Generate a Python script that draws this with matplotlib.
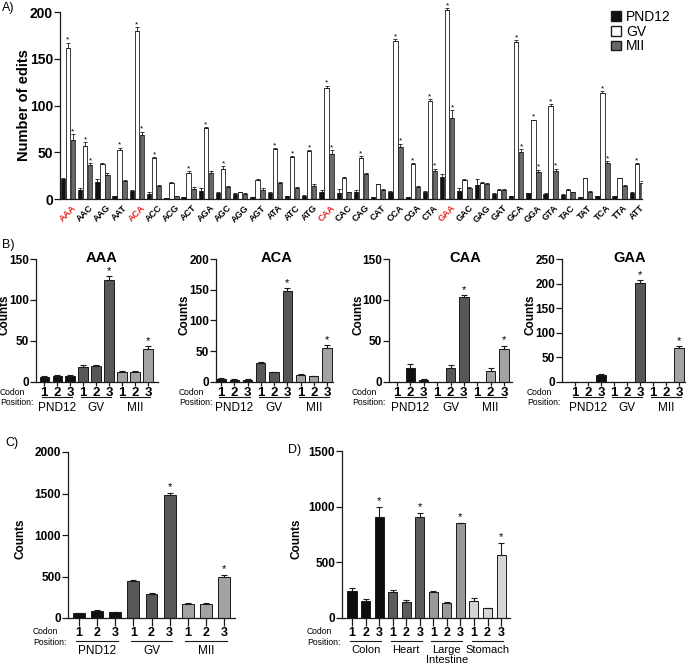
import numpy as np
import matplotlib
matplotlib.use('Agg')
import matplotlib.pyplot as plt
from matplotlib.transforms import offset_copy
from matplotlib.patches import Patch

plt.rcParams['font.family'] = ['Liberation Sans', 'DejaVu Sans']

# ---- data ----
codons = ['AAA', 'AAC', 'AAG', 'AAT', 'ACA', 'ACC', 'ACG', 'ACT', 'AGA', 'AGC', 'AGG', 'AGT',
          'ATA', 'ATC', 'ATG', 'CAA', 'CAC', 'CAG', 'CAT', 'CCA', 'CGA', 'CTA', 'GAA', 'GAC',
          'GAG', 'GAT', 'GCA', 'GGA', 'GTA', 'TAC', 'TAT', 'TCA', 'TTA', 'ATT']
red_codons = ['AAA', 'ACA', 'CAA', 'GAA']
pnd12 = [21, 10, 18, 3, 9, 5, 1, 2, 9, 6, 5, 2, 6, 3, 3, 8, 6, 8, 2, 7, 2, 7, 24, 9,
         15, 5, 3, 6, 5, 4, 2, 3, 3, 6]
gv = [162, 57, 37, 52, 180, 44, 17, 28, 76, 32, 7, 20, 53, 45, 51, 119, 22, 44, 16, 169, 37, 105, 202, 20,
      17, 10, 168, 84, 100, 10, 22, 113, 22, 37]
mii = [63, 36, 26, 19, 68, 14, 3, 11, 28, 13, 5, 10, 17, 12, 14, 48, 7, 27, 10, 56, 13, 30, 87, 12,
       16, 10, 50, 29, 30, 7, 8, 38, 14, 17]
pnd12_err = [1.5, 1.5, 3, 0.5, 1, 2, 0.3, 0.5, 2.5, 1.5, 1, 0.5, 1.5, 0.5, 1.5, 1.5, 5, 1.5, 0.5, 2, 0.5, 2, 3, 2.5,
             6, 1.5, 0.5, 0.5, 1, 1, 0.3, 0.5, 0.5, 2]
gv_err = [5, 4, 2, 3, 4, 1, 1, 2, 1, 3, 0.5, 1, 1.5, 1, 1, 2, 1, 1.5, 0.5, 2, 1.5, 1.5, 2, 1,
          1, 1, 2, 1, 1.5, 1, 0.5, 2, 0.5, 1]
mii_err = [6, 2, 2, 1, 4, 1, 0.5, 1.5, 2, 1, 1, 1.5, 1.5, 1, 2, 4, 1, 1, 1, 3, 1, 2.5, 8, 1,
           1.5, 1, 3, 2.5, 2.5, 1, 1, 2.5, 1.5, 2]
gv_star = ['AAA', 'AAC', 'AAT', 'ACA', 'ACC', 'ACT', 'AGA', 'AGC', 'ATA', 'ATC', 'ATG', 'CAA',
           'CAG', 'CCA', 'CGA', 'CTA', 'GAA', 'GCA', 'GGA', 'GTA', 'TCA', 'ATT']
mii_star = ['AAA', 'AAC', 'ACA', 'CAA', 'CCA', 'CTA', 'GAA', 'GCA', 'GGA', 'GTA', 'TCA']

stages = ['PND12', 'GV', 'MII']
b_titles = ['AAA', 'ACA', 'CAA', 'GAA']
b_aaa = [6, 7, 7.5, 18, 19.5, 125, 12, 12, 40]
b_aaa_err = [1, 2, 1, 3, 1, 4, 1, 1, 4]
b_aca = [5, 4, 4, 31.5, 16, 148, 12, 10, 56]
b_aca_err = [1, 1.5, 1, 1, 1, 5, 1, 0.5, 3.5]
b_caa = [0, 17, 3, 0, 17.5, 104, 0, 14, 40.5]
b_caa_err = [0, 5, 1, 0, 3.5, 2, 0, 3, 4]
b_gaa = [0, 0, 13.5, 0, 0, 202, 0, 0, 69]
b_gaa_err = [0, 0, 3, 0, 0, 5, 0, 0, 5]
b_ymax = [150, 200, 150, 250]

c_counts = [60, 84, 68, 442, 293, 1476, 173, 169, 490]
c_err = [5, 8, 5, 20, 8, 25, 12, 12, 33]

tissues = ['Colon', 'Heart', 'Large\nIntestine', 'Stomach']
d_counts = [245, 154, 906, 230, 145, 903, 236, 139, 849, 154, 88, 565]
d_err = [21, 21, 91, 18, 21, 43, 3, 3, 6, 24, 3, 109]

# ---- layout helpers ----
W, H = 689, 669
fig = plt.figure(figsize=(W / 100, H / 100), dpi=100)
K = '#1a1a1a'


def px_axes(l, t, r, b):
    return fig.add_axes([l / W, 1 - b / H, (r - l) / W, (b - t) / H])


def ftext(x, y, s, **kw):
    fig.text(x / W, 1 - y / H, s, **kw)


def style(ax, ymax, step, fs, ytop=None):
    for s in ['top', 'right']:
        ax.spines[s].set_visible(False)
    for s in ['left', 'bottom']:
        ax.spines[s].set_linewidth(0.9)
        ax.spines[s].set_color(K)
    ax.set_ylim(0, ytop or ymax)
    ax.spines['left'].set_bounds(0, ymax)
    ax.set_yticks(np.arange(0, ymax + 1, step))
    ax.tick_params(axis='y', length=4, width=0.9, labelsize=fs, pad=1, color=K)
    for t in ax.get_yticklabels():
        t.set_fontweight('bold')


def bars(ax, vals, errs, colors, width):
    x = np.arange(len(vals))
    ax.bar(x, vals, width, color=colors, edgecolor=K, linewidth=0.7)
    ax.errorbar(x, vals, yerr=[np.zeros(len(vals)), errs], fmt='none', ecolor=K,
                elinewidth=0.8, capsize=2, capthick=0.8)


def star(ax, x, y, fs, dy=0):
    ax.annotate('*', (x, y), xytext=(0, dy), textcoords='offset pixels',
                ha='center', va='baseline', fontsize=fs, annotation_clip=False)


def codon_axis(ax, groups, tick_len, tick_fs, line_dy, lab_dy, lab_fs):
    n = len(groups)
    ax.set_xticks(np.arange(3 * n))
    ax.set_xticklabels(['1', '2', '3'] * n, fontweight='bold', fontsize=tick_fs)
    ax.tick_params(axis='x', length=tick_len, width=0.9, pad=0.5, color=K)
    line_tr = offset_copy(ax.get_xaxis_transform(), fig=fig, x=0, y=-line_dy, units='dots')
    lab_tr = offset_copy(ax.get_xaxis_transform(), fig=fig, x=0, y=-lab_dy, units='dots')
    for g, lab in enumerate(groups):
        ax.plot([3 * g - 0.15, 3 * g + 2.15], [0, 0], transform=line_tr, color=K,
                lw=0.8, clip_on=False)
        ax.text(3 * g + 1, 0, lab, transform=lab_tr, ha='center', va='top',
                fontsize=lab_fs, linespacing=1.0)


# ---- panel A ----
axA = px_axes(60, 2.65, 642, 199)
style(axA, 200, 50, 10, ytop=210)
x = np.arange(len(codons))
off, w = 0.29, 0.25
axA.bar(x - off, pnd12, w, color='#111111', edgecolor=K, linewidth=0.5)
axA.bar(x, gv, w, color='white', edgecolor=K, linewidth=0.6)
axA.bar(x + off, mii, w, color='#686868', edgecolor=K, linewidth=0.5)
for dx, v, e in [(-off, pnd12, pnd12_err), (0, gv, gv_err), (off, mii, mii_err)]:
    axA.errorbar(x + dx, v, yerr=[np.zeros(len(v)), e], fmt='none', ecolor=K,
                 elinewidth=0.6, capsize=1.2, capthick=0.6)
for c in gv_star:
    i = codons.index(c)
    star(axA, i, gv[i] + gv_err[i], 6, dy=1)
for c in mii_star:
    i = codons.index(c)
    star(axA, i + off, mii[i] + mii_err[i], 6, dy=1)
axA.set_xlim(-0.46, 33.3)
axA.set_xticks(x)
axA.set_xticklabels(codons, rotation=45, ha='center', va='top', fontsize=6.5, fontweight='bold')
axA.tick_params(axis='x', length=0, pad=3)
for t in axA.get_xticklabels():
    if t.get_text() in red_codons:
        t.set_color('#e8231c')
ftext(24, 105, 'Number of edits', rotation=90, ha='center', va='center',
      fontsize=10.5, fontweight='bold')
ftext(2, 8, 'A)', ha='left', va='center', fontsize=9)
handles = [Patch(facecolor='#111111', edgecolor=K), Patch(facecolor='white', edgecolor=K),
           Patch(facecolor='#686868', edgecolor=K)]
fig.legend(handles, stages, loc='upper left', bbox_to_anchor=(611 / W, 1 - 10 / H),
           frameon=False, fontsize=10, handlelength=0.7, handleheight=0.7,
           handletextpad=0.4, labelspacing=0.05, borderpad=0, borderaxespad=0)

# ---- panel B ----
stage_colors = ['#111111'] * 3 + ['#575757'] * 3 + ['#a3a3a3'] * 3
b_vals = [b_aaa, b_aca, b_caa, b_gaa]
b_errs = [b_aaa_err, b_aca_err, b_caa_err, b_gaa_err]
b_box = [(36, 158, -0.62, 8.77), (216, 333, -0.38, 8.45), (389, 512, -0.6, 8.6), (562, 685, -1.0, 8.46)]
b_title_x = [102, 277, 465, 630]
b_codon_x = [0, 179, 352, 527]
for k in range(4):
    l, r, x0, x1 = b_box[k]
    ax = px_axes(l, 259, r, 382)
    style(ax, b_ymax[k], 50, 8.5)
    bars(ax, b_vals[k], b_errs[k], stage_colors, 0.7)
    for i in [5, 8]:
        star(ax, i, b_vals[k][i] + b_errs[k][i], 8, dy=2)
    ax.set_xlim(x0, x1)
    codon_axis(ax, stages, 3, 9.5, 15, 20, 8.5)
    ftext(b_title_x[k], 258, b_titles[k], ha='center', va='center', fontsize=10.5, fontweight='bold')
    ftext(l - 31, 315, 'Counts', rotation=90, ha='center', va='center', fontsize=8.5, fontweight='bold')
    ftext(b_codon_x[k], 388, 'Codon\nPosition:', ha='left', va='top', fontsize=6.2, linespacing=1.2)
ftext(2, 245, 'B)', ha='left', va='center', fontsize=9)

# ---- panel C ----
axC = px_axes(68, 452, 235, 618)
style(axC, 2000, 500, 8.5)
bars(axC, c_counts, c_err, stage_colors, 0.66)
for i in [5, 8]:
    star(axC, i, c_counts[i] + c_err[i], 8, dy=3)
axC.set_xlim(-0.6, 8.6)
codon_axis(axC, stages, 6, 9, 23, 27, 8.5)
ftext(21, 539, 'Counts', rotation=90, ha='center', va='center', fontsize=8.5, fontweight='bold')
ftext(33, 627, 'Codon\nPosition:', ha='left', va='top', fontsize=6.2, linespacing=1.25)
ftext(5, 443, 'C)', ha='left', va='center', fontsize=9)

# ---- panel D ----
tissue_colors = ['#0d0d0d'] * 3 + ['#5c5c5c'] * 3 + ['#999999'] * 3 + ['#d6d6d6'] * 3
axD = px_axes(342, 451, 510, 618)
style(axD, 1500, 500, 8.5)
bars(axD, d_counts, d_err, tissue_colors, 0.67)
for i in [2, 5, 8, 11]:
    star(axD, i, d_counts[i] + d_err[i], 8, dy=3)
axD.set_xlim(-0.74, 11.66)
codon_axis(axD, tissues, 6, 9, 23, 27, 8)
ftext(297, 539, 'Counts', rotation=90, ha='center', va='center', fontsize=8.5, fontweight='bold')
ftext(307, 627, 'Codon\nPosition:', ha='left', va='top', fontsize=6.2, linespacing=1.25)
ftext(288, 450, 'D)', ha='left', va='center', fontsize=9)

fig.savefig('out.png', dpi=100)
